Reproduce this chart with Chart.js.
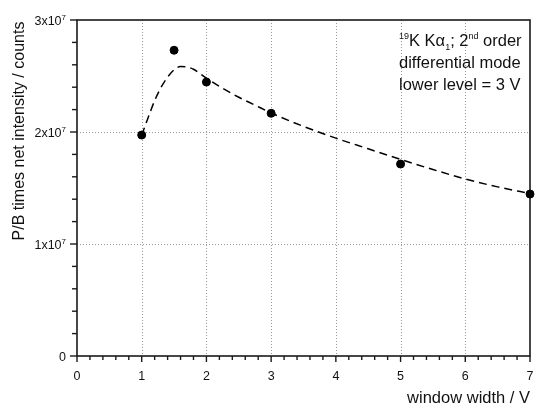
<!DOCTYPE html>
<html>
<head>
<meta charset="utf-8">
<script src="https://cdn.jsdelivr.net/npm/chart.js@4.4.1/dist/chart.umd.min.js"></script>
<style>
  html, body { margin: 0; padding: 0; background: #fff; }
  #wrap { width: 535px; height: 405px; position: relative; }
</style>
</head>
<body>
<div id="wrap"><canvas id="c" width="535" height="405"></canvas></div>
<script>
// ---- data ----
const measuredX = [1, 1.5, 2, 3, 5, 7];
const measuredY = [1.973e7, 2.73e7, 2.446e7, 2.167e7, 1.714e7, 1.446e7];

const fitX = [1.0, 1.1, 1.2, 1.3, 1.4, 1.5, 1.6, 1.7, 1.8, 2.0, 2.25, 2.5, 2.75, 3.0, 3.5, 4.0, 4.5, 5.0, 5.5, 6.0, 6.5, 7.0];
const fitY = [1.97e7, 2.13e7, 2.28e7, 2.40e7, 2.49e7, 2.555e7, 2.585e7, 2.58e7, 2.56e7, 2.48e7, 2.39e7, 2.31e7, 2.24e7, 2.17e7, 2.05e7, 1.945e7, 1.85e7, 1.755e7, 1.665e7, 1.58e7, 1.51e7, 1.45e7];

const xTickValues = [0, 1, 2, 3, 4, 5, 6, 7];
const yTickValues = [0, 1e7, 2e7, 3e7];
const yTickMantissa = ['0', '1x10', '2x10', '3x10'];
const yTickExponent = ['', '7', '7', '7'];

const xTitle = 'window width / V';
const yTitle = 'P/B times net intensity / counts';
const noteLine2 = 'differential mode';
const noteLine3 = 'lower level = 3 V';

const FONT = '"Liberation Sans", Arial, sans-serif';

function font(px) { return px + 'px ' + FONT; }

function drawPieces(ctx, pieces, x, y) {
  let cx = x;
  ctx.textAlign = 'left';
  ctx.textBaseline = 'alphabetic';
  pieces.forEach(p => {
    ctx.font = font(p.size);
    ctx.fillText(p.t, cx, y + (p.dy || 0));
    cx += ctx.measureText(p.t).width;
  });
  return cx;
}
function piecesWidth(ctx, pieces) {
  let w = 0;
  pieces.forEach(p => { ctx.font = font(p.size); w += ctx.measureText(p.t).width; });
  return w;
}

const decor = {
  id: 'decor',
  beforeDatasetsDraw(chart) {
    const ctx = chart.ctx;
    const a = chart.chartArea;
    const xs = chart.scales.x, ys = chart.scales.y;
    ctx.save();
    // dotted grid lines
    ctx.strokeStyle = '#9a9a9a';
    ctx.lineWidth = 1;
    ctx.setLineDash([1, 2]);
    xTickValues.forEach(v => {
      if (v === xs.min || v === xs.max) return;
      const px = Math.round(xs.getPixelForValue(v)) + 0.5;
      ctx.beginPath(); ctx.moveTo(px, a.top); ctx.lineTo(px, a.bottom); ctx.stroke();
    });
    yTickValues.forEach(v => {
      if (v === ys.min || v === ys.max) return;
      const py = Math.round(ys.getPixelForValue(v)) + 0.5;
      ctx.beginPath(); ctx.moveTo(a.left, py); ctx.lineTo(a.right, py); ctx.stroke();
    });
    ctx.setLineDash([]);
    // frame
    ctx.strokeStyle = '#1a1a1a';
    ctx.lineWidth = 1.6;
    ctx.strokeRect(a.left, a.top, a.right - a.left, a.bottom - a.top);
    // ticks x
    ctx.lineWidth = 1.4;
    for (let i = 0; i <= 35; i++) {
      const v = i * 0.2;
      const px = xs.getPixelForValue(v);
      const len = (i % 5 === 0) ? 6 : 4;
      ctx.beginPath(); ctx.moveTo(px, a.bottom); ctx.lineTo(px, a.bottom + len); ctx.stroke();
    }
    // ticks y
    for (let i = 0; i <= 15; i++) {
      const v = i * 2e6;
      const py = ys.getPixelForValue(v);
      const len = (i % 5 === 0) ? 7 : 5;
      ctx.beginPath(); ctx.moveTo(a.left, py); ctx.lineTo(a.left - len, py); ctx.stroke();
    }
    // y tick labels with superscripts
    ctx.fillStyle = '#111';
    yTickValues.forEach((v, i) => {
      const py = ys.getPixelForValue(v);
      const pieces = [{ t: yTickMantissa[i], size: 12.5, dy: 0 }];
      if (yTickExponent[i]) pieces.push({ t: yTickExponent[i], size: 8, dy: -5.5 });
      const w = piecesWidth(ctx, pieces);
      drawPieces(ctx, pieces, 66 - w, py + 5);
    });
    // axis titles
    ctx.font = font(16.5);
    ctx.textAlign = 'right';
    ctx.textBaseline = 'alphabetic';
    ctx.fillText(xTitle, a.right, 403);
    ctx.save();
    ctx.translate(24, 131);
    ctx.rotate(-Math.PI / 2);
    ctx.font = font(16);
    ctx.textAlign = 'center';
    ctx.fillText(yTitle, 0, 0);
    ctx.restore();
    // annotation
    const x0 = 399;
    drawPieces(ctx, [
      { t: '19', size: 9, dy: -7 },
      { t: 'K K\u03B1', size: 16.5 },
      { t: '1', size: 9, dy: 4 },
      { t: '; 2', size: 16.5 },
      { t: 'nd', size: 9, dy: -7 },
      { t: ' order', size: 16.5 }
    ], x0, 46);
    drawPieces(ctx, [{ t: noteLine2, size: 16.5 }], x0, 68);
    drawPieces(ctx, [{ t: noteLine3, size: 16.5 }], x0, 90);
    ctx.restore();
  }
};

new Chart(document.getElementById('c'), {
  type: 'scatter',
  data: {
    datasets: [
      {
        type: 'line',
        data: fitX.map((x, i) => ({ x: x, y: fitY[i] })),
        borderColor: '#000',
        borderWidth: 1.5,
        borderDash: [8, 5],
        pointRadius: 0,
        fill: false,
        tension: 0.4,
        cubicInterpolationMode: 'monotone',
        clip: false,
        order: 2
      },
      {
        type: 'scatter',
        data: measuredX.map((x, i) => ({ x: x, y: measuredY[i] })),
        backgroundColor: '#000',
        borderColor: '#000',
        pointRadius: 4,
        pointHoverRadius: 4,
        clip: false,
        order: 1
      }
    ]
  },
  options: {
    responsive: false,
    animation: false,
    devicePixelRatio: 1,
    layout: { padding: { top: 20, right: 3, left: 0, bottom: 0 } },
    plugins: { legend: { display: false }, tooltip: { enabled: false } },
    scales: {
      x: {
        type: 'linear', min: 0, max: 7,
        grid: { display: false, drawTicks: false },
        border: { display: false },
        afterBuildTicks(s) { s.ticks = xTickValues.map(v => ({ value: v })); },
        ticks: {
          color: '#111', font: { size: 12.5, family: FONT }, padding: 13,
          maxRotation: 0, autoSkip: false,
          callback: v => String(v)
        },
        afterFit(s) { s.height = 49; s.paddingLeft = 0; s.paddingRight = 0; }
      },
      y: {
        type: 'linear', min: 0, max: 3e7,
        grid: { display: false, drawTicks: false },
        border: { display: false },
        ticks: { display: false },
        afterFit(s) { s.width = 77; s.paddingTop = 0; s.paddingBottom = 0; }
      }
    }
  },
  plugins: [decor]
});
</script>
</body>
</html>
